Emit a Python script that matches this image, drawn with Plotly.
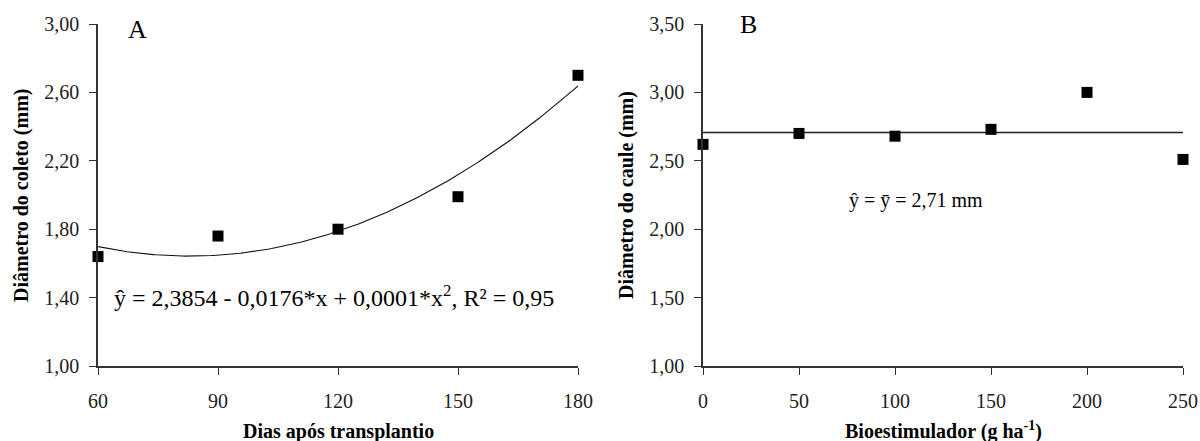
import numpy as np
import plotly.graph_objects as go

# Panel A data
dias = [60, 90, 120, 150, 180]
diam_coleto = [1.64, 1.76, 1.80, 1.99, 2.70]
# Panel B data
bio = [0, 50, 100, 150, 200, 250]
diam_caule = [2.62, 2.70, 2.68, 2.73, 3.00, 2.51]

ya_ticks = [1.00, 1.40, 1.80, 2.20, 2.60, 3.00]
yb_ticks = [1.00, 1.50, 2.00, 2.50, 3.00, 3.50]

coef = np.polyfit(dias, diam_coleto, 2)
xs = np.linspace(60, 180, 200)
ys = np.polyval(coef, xs)
mean_b = float(np.mean(diam_caule))

FONT = "Liberation Serif"
fig = go.Figure()
fig.add_trace(go.Scatter(x=xs, y=ys, mode="lines", line=dict(color="#111", width=1.1),
                         xaxis="x", yaxis="y", cliponaxis=False, showlegend=False))
fig.add_trace(go.Scatter(x=dias, y=diam_coleto, mode="markers",
                         marker=dict(symbol="square", size=11, color="black"),
                         xaxis="x", yaxis="y", cliponaxis=False, showlegend=False))
fig.add_trace(go.Scatter(x=[bio[0], bio[-1]], y=[mean_b, mean_b], mode="lines",
                         line=dict(color="#222", width=1.4),
                         xaxis="x2", yaxis="y2", cliponaxis=False, showlegend=False))
fig.add_trace(go.Scatter(x=bio, y=diam_caule, mode="markers",
                         marker=dict(symbol="square", size=11, color="black"),
                         xaxis="x2", yaxis="y2", cliponaxis=False, showlegend=False))

axis_common = dict(showgrid=False, zeroline=False, showline=True, linecolor="#333",
                   linewidth=1.5, ticks="outside", ticklen=7, tickcolor="#333", tickwidth=1.3,
                   tickfont=dict(family=FONT, size=20, color="#222"))
top, bot = 1 - 24 / 441, 1 - 366 / 441
fig.update_layout(
    width=1200, height=441,
    margin=dict(l=0, r=0, t=0, b=0, pad=0, autoexpand=False),
    plot_bgcolor="white", paper_bgcolor="white", separators=",.",
    xaxis=dict(domain=[98 / 1200, 578 / 1200], range=[60, 180], tickvals=dias,
               anchor="y", automargin=False, ticklabelstandoff=9, **axis_common),
    yaxis=dict(domain=[bot, top], range=[1, 3], tickvals=ya_ticks, tickformat=".2f",
               anchor="x", automargin=False, ticklabelstandoff=6, **axis_common),
    xaxis2=dict(domain=[703 / 1200, 1183 / 1200], range=[0, 250], tickvals=bio,
                anchor="y2", automargin=False, ticklabelstandoff=9, **axis_common),
    yaxis2=dict(domain=[bot, top], range=[1, 3.5], tickvals=yb_ticks, tickformat=".2f",
                anchor="x2", automargin=False, ticklabelstandoff=6, **axis_common),
)

def ann(text, x, y, size=15, bold=False, angle=0, xanchor="center"):
    if bold:
        text = "<b>" + text + "</b>"
    fig.add_annotation(text=text, x=x / 1200, y=1 - y / 441, xref="paper", yref="paper",
                       showarrow=False, textangle=angle, xanchor=xanchor, yanchor="middle",
                       font=dict(family=FONT, size=size, color="black"))

ann("Dias após transplantio", 338, 431, size=20, bold=True)
ann("Bioestimulador (g ha<sup>-1</sup>)", 943, 430, size=20, bold=True)
ann("Diâmetro do coleto (mm)", 21, 196, size=20, bold=True, angle=-90)
ann("Diâmetro do caule (mm)", 626, 195, size=20, bold=True, angle=-90)
ann("A", 137, 29, size=26)
ann("B", 748, 25, size=26)
ann("ŷ = 2,3854 - 0,0176*x + 0,0001*x<sup>2</sup>, R² = 0,95", 112, 296, size=24, xanchor="left")
ann("ŷ = ȳ = 2,71 mm", 847, 200, size=20, xanchor="left")

fig.write_html("out.html", config={"displayModeBar": False},
               post_script="document.body.style.margin='0';document.body.style.overflow='hidden';")
